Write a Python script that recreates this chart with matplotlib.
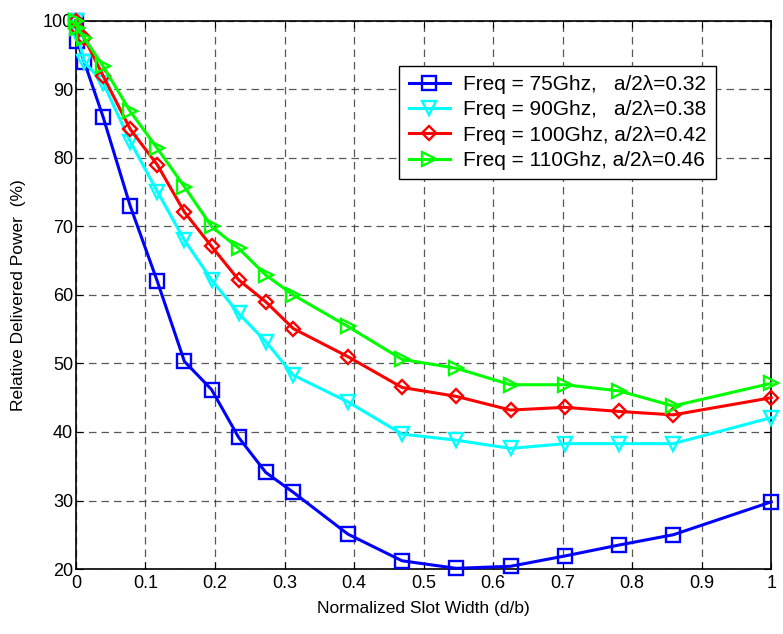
import matplotlib
matplotlib.use("Agg")
import matplotlib.pyplot as plt

plt.rcParams["font.family"] = ["Liberation Sans", "DejaVu Sans"]

# normalized slot width d/b
slot_width = [0, 0.002, 0.012, 0.039, 0.078, 0.117, 0.156, 0.195, 0.234, 0.273,
              0.3125, 0.391, 0.469, 0.547, 0.625, 0.703, 0.781, 0.859, 1.0]

# relative delivered power (%) per frequency
p_75 = [100, 97, 94, 86, 73, 62, 50.3, 46.2, 39.2, 34.1,
        31.2, 25.1, 21.2, 20.1, 20.4, 21.9, 23.5, 25.0, 29.8]
p_90 = [100, 98, 94, 91, 82.4, 75.1, 68.0, 62.2, 57.3, 53.2,
        48.3, 44.4, 39.7, 38.8, 37.6, 38.3, 38.3, 38.3, 42.1]
p_100 = [100, 99, 97.5, 92, 84.2, 79, 72.1, 67.1, 62.2, 59.0,
         55.1, 51.0, 46.5, 45.2, 43.2, 43.6, 43.0, 42.5, 45.0]
p_110 = [100, 99, 97.5, 93.4, 86.8, 81.4, 75.8, 70.0, 66.8, 62.9,
         60.0, 55.4, 50.6, 49.3, 46.9, 46.9, 46.0, 43.8, 47.1]

labels = ["Freq = 75Ghz,   a/2\u03bb=0.32",
          "Freq = 90Ghz,   a/2\u03bb=0.38",
          "Freq = 100Ghz, a/2\u03bb=0.42",
          "Freq = 110Ghz, a/2\u03bb=0.46"]

fig = plt.figure(figsize=(7.83, 6.34), dpi=100)
ax = fig.add_axes([0.097, 0.1025, 0.888, 0.8645])

series = [(p_75, "#0000ff", "s"), (p_90, "#00ffff", "v"),
          (p_100, "#ff0000", "D"), (p_110, "#00ff00", ">")]
for (vals, col, mk), lab in zip(series, labels):
    ms = 7.5 if mk == "D" else 9.5
    ax.plot(slot_width, vals, color=col, lw=2.2, marker=mk, ms=ms,
            mfc="none", mec=col, mew=1.7, label=lab, clip_on=False, zorder=3)

ax.set_xlim(0, 1)
ax.set_ylim(20, 100)
ax.set_xticks([0, 0.1, 0.2, 0.3, 0.4, 0.5, 0.6, 0.7, 0.8, 0.9, 1])
ax.set_xticklabels(["0", "0.1", "0.2", "0.3", "0.4", "0.5", "0.6", "0.7", "0.8", "0.9", "1"])
ax.set_yticks(range(20, 101, 10))
ax.tick_params(direction="in", top=True, right=True, labelsize=13, length=5, pad=4)
ax.tick_params(axis="y", pad=2)
ax.grid(True, color="#303030", ls=(0, (6, 4)), lw=0.9, alpha=0.8)
for s in ax.spines.values():
    s.set_linewidth(1.2)

ax.set_xlabel("Normalized Slot Width (d/b)", fontsize=12.5, labelpad=7)
ax.set_ylabel("Relative Delivered Power  (%)", fontsize=12.5, labelpad=12)

leg = ax.legend(loc="upper left", bbox_to_anchor=(0.45, 0.937), fontsize=15,
                frameon=True, fancybox=False, edgecolor="black", framealpha=1,
                handlelength=2.0, handletextpad=0.6, borderpad=0.45,
                labelspacing=0.3)
leg.get_frame().set_linewidth(1.0)

fig.savefig("out.png", dpi=100)
